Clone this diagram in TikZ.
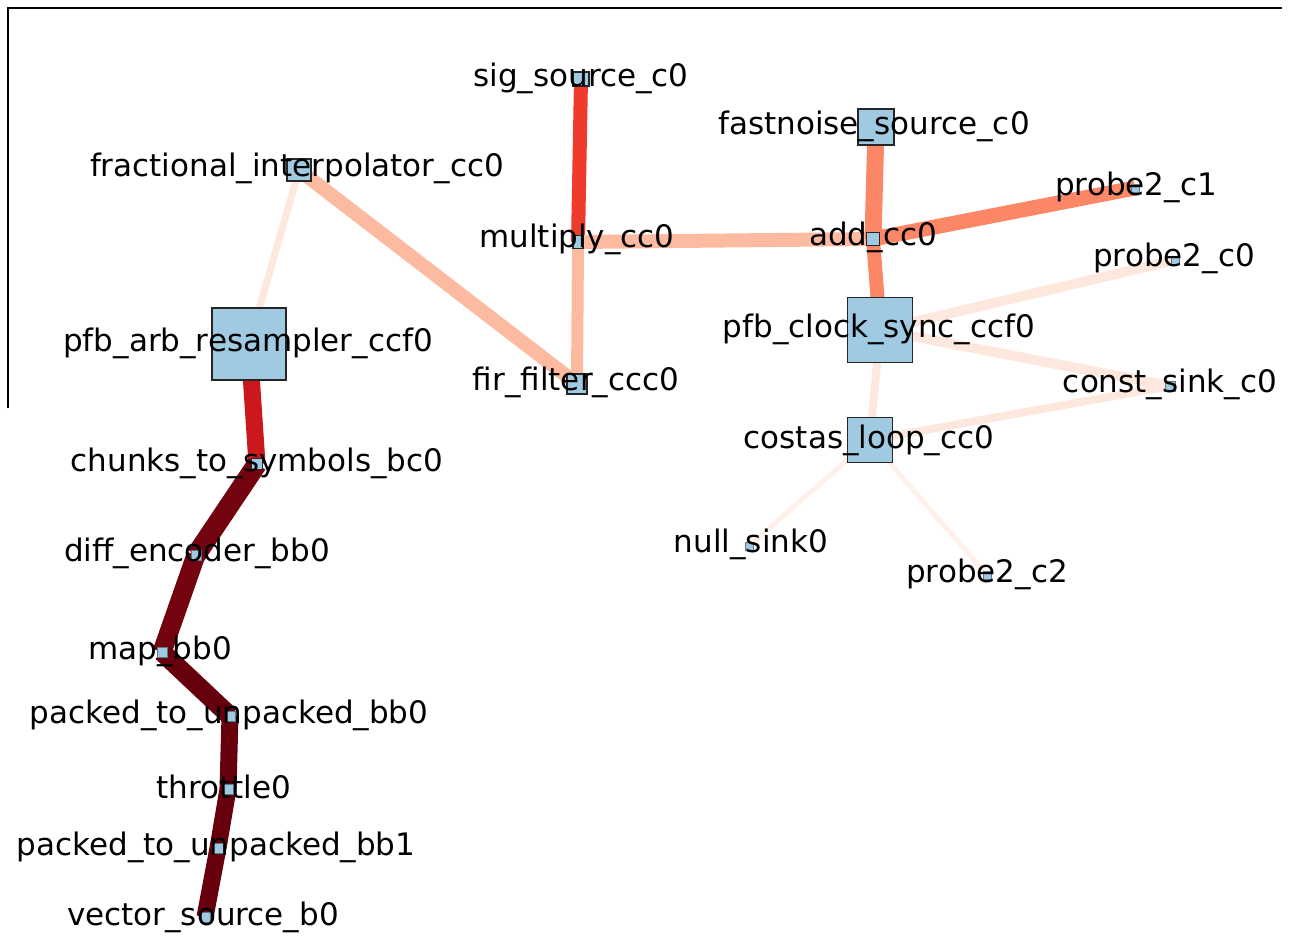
\documentclass[tikz,border=0pt]{standalone}
\usepackage{fontspec}
\setmainfont{DejaVu Sans}
\usetikzlibrary{backgrounds}
\definecolor{nodeblue}{RGB}{160,202,226}
\definecolor{rdark}{RGB}{103,0,13}
\definecolor{rdarkb}{RGB}{115,3,15}
\definecolor{rred}{RGB}{203,24,29}
\definecolor{rorange}{RGB}{239,59,44}
\definecolor{rcoral}{RGB}{252,135,103}
\definecolor{rsalmon}{RGB}{252,187,161}
\definecolor{rpale}{RGB}{254,232,222}
\definecolor{rpaler}{RGB}{255,240,233}
\tikzset{
  blk/.style={draw=black!85, fill=nodeblue, line width=1.6pt, rectangle, inner sep=0pt},
  lbl/.style={font=\fontsize{31}{36}\selectfont, text=black, inner sep=0pt, text height=0.76em, text depth=0.24em, yshift=-7pt},
  edge/.style={line cap=butt},
  frame/.style={line width=2pt, black}
}
\begin{document}
\begin{tikzpicture}[x=1pt,y=-1pt]
\useasboundingbox (0,0) rectangle (1293,941);
% frame
\draw[frame] (8,408) coordinate (fl) -- (8,8) coordinate (ftl) -- (1282,8) coordinate (ftr);
% nodes
\node[blk, minimum width=16, minimum height=14] (sig) at (581,79) {};
\node[blk, minimum size=36] (fast) at (876,127) {};
\node[blk, minimum width=24, minimum height=22] (frac) at (299,170) {};
\node[blk, minimum width=10, minimum height=13] (mult) at (578,242) {};
\node[blk, minimum size=13] (add) at (873,239) {};
\node[blk, minimum size=8, line width=0.5pt, draw=nodeblue!60!black] (p1) at (1135,188) {};
\node[blk, minimum size=8, line width=0.5pt, draw=nodeblue!60!black] (p0) at (1175,260) {};
\node[blk, minimum size=65] (clock) at (880,330) {};
\node[blk, minimum size=10, line width=0.5pt, draw=nodeblue!60!black] (csink) at (1170,386) {};
\node[blk, minimum size=20] (fir) at (577,384) {};
\node[blk, minimum width=74, minimum height=72] (arb) at (249,344) {};
\node[blk, minimum size=45] (costas) at (870,440) {};
\node[blk, minimum size=8, line width=0.5pt, draw=nodeblue!60!black] (null) at (749,546) {};
\node[blk, minimum size=8, line width=0.5pt, draw=nodeblue!60!black] (p2) at (987,575) {};
\node[blk, minimum size=11, line width=0.8pt] (chunks) at (257,464) {};
\node[blk, minimum size=10, line width=0.5pt, draw=nodeblue!60!black] (diff) at (196,555) {};
\node[blk, minimum size=10, line width=0.5pt, draw=nodeblue!60!black] (map) at (162,652) {};
\node[blk, minimum size=10, line width=0.5pt, draw=nodeblue!60!black] (pu0) at (230,716) {};
\node[blk, minimum size=10, line width=0.5pt, draw=nodeblue!60!black] (thr) at (228,789) {};
\node[blk, minimum size=10, line width=0.5pt, draw=nodeblue!60!black] (pu1) at (218,848) {};
\node[blk, minimum size=10, line width=0.5pt, draw=nodeblue!60!black] (vec) at (205,917) {};
% edges
\begin{pgfonlayer}{background}
\draw[edge, rorange, line width=14] (sig.center) -- (mult.center);
\draw[edge, rsalmon, line width=14] (mult.center) -- (add.center);
\draw[edge, rsalmon, line width=12] (mult.center) -- (fir.center);
\draw[edge, rsalmon, line width=14] (frac.center) -- (fir.center);
\draw[edge, rpale, line width=7] (frac.center) -- (arb.center);
\draw[edge, rcoral, line width=17] (fast.center) -- (add.center);
\draw[edge, rcoral, line width=15] (add.center) -- (p1.center);
\draw[edge, rcoral, line width=14] (add.center) -- (clock.center);
\draw[edge, rpale, line width=10] (clock.center) -- (p0.center);
\draw[edge, rpale, line width=10] (clock.center) -- (csink.center);
\draw[edge, rpale, line width=8] (clock.center) -- (costas.center);
\draw[edge, rpale, line width=8] (costas.center) -- (csink.center);
\draw[edge, rpaler, line width=5] (costas.center) -- (null.center);
\draw[edge, rpaler, line width=5] (costas.center) -- (p2.center);
\draw[edge, rred, line width=17] (arb.center) -- (chunks.center);
\draw[edge, rdarkb, line width=20] (chunks.center) -- (diff.center);
\draw[edge, rdarkb, line width=19] (diff.center) -- (map.center);
\draw[edge, rdark, line width=19] (map.center) -- (pu0.center);
\draw[edge, rdark, line width=17] (pu0.center) -- (thr.center);
\draw[edge, rdark, line width=17] (thr.center) -- (pu1.center);
\draw[edge, rdark, line width=17] (pu1.center) -- (vec.center);
\end{pgfonlayer}
% labels
\node[lbl] (sig-l) at (581,77) {sig\_source\_c0};
\node[lbl] (fast-l) at (874,125) {fastnoise\_source\_c0};
\node[lbl] (frac-l) at (297,167) {fractional\_interpolator\_cc0};
\node[lbl] (mult-l) at (577,238) {multiply\_cc0};
\node[lbl] (add-l) at (873,236) {add\_cc0};
\node[lbl] (p1-l) at (1136,186) {probe2\_c1};
\node[lbl] (p0-l) at (1174,257) {probe2\_c0};
\node[lbl] (clock-l) at (879,328) {pfb\_clock\_sync\_ccf0};
\node[lbl] (csink-l) at (1170,383) {const\_sink\_c0};
\node[lbl] (fir-l) at (576,381) {fir\_filter\_ccc0};
\node[lbl] (arb-l) at (248,342) {pfb\_arb\_resampler\_ccf0};
\node[lbl] (costas-l) at (869,439) {costas\_loop\_cc0};
\node[lbl] (null-l) at (751,543) {null\_sink0};
\node[lbl] (p2-l) at (987,573) {probe2\_c2};
\node[lbl] (chunks-l) at (257,462) {chunks\_to\_symbols\_bc0};
\node[lbl] (diff-l) at (197,552) {diff\_encoder\_bb0};
\node[lbl] (map-l) at (160,650) {map\_bb0};
\node[lbl] (pu0-l) at (229,714) {packed\_to\_unpacked\_bb0};
\node[lbl] (thr-l) at (224,789) {throttle0};
\node[lbl] (pu1-l) at (216,846) {packed\_to\_unpacked\_bb1};
\node[lbl] (vec-l) at (203,916) {vector\_source\_b0};
\end{tikzpicture}
\end{document}
